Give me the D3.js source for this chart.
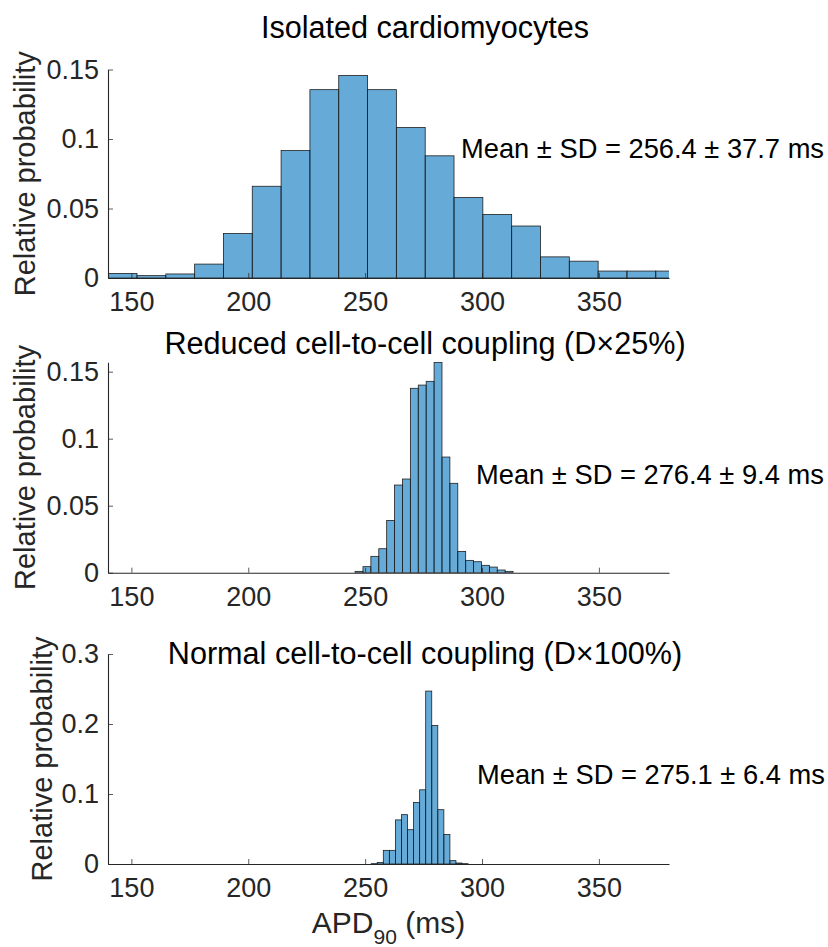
<!DOCTYPE html>
<html><head><meta charset="utf-8">
<script src="https://cdn.jsdelivr.net/npm/d3@7"></script>
<style>
body{margin:0;background:#fff}
svg text{font-family:"Liberation Sans",Arial,Helvetica,sans-serif}
</style>
</head><body>
<svg id="c" width="828" height="947"></svg>
<script>
// ---------- data ----------
const xDomain = [140, 380];
const xTicks = [150, 200, 250, 300, 350];
const xTickLabels = ["150", "200", "250", "300", "350"];

const titles = [
  "Isolated cardiomyocytes",
  "Reduced cell-to-cell coupling (D\u00d725%)",
  "Normal cell-to-cell coupling (D\u00d7100%)"
];
const meanLabels = [
  "Mean \u00b1 SD = 256.4 \u00b1 37.7 ms",
  "Mean \u00b1 SD = 276.4 \u00b1 9.4 ms",
  "Mean \u00b1 SD = 275.1 \u00b1 6.4 ms"
];

// bin start (ms), bin width (ms), relative probability per bin
const isoBinStart = 140.07, isoBinWidth = 12.33;
const isoValues = [0.0033, 0.0017, 0.0029, 0.0100, 0.0320, 0.0660, 0.0917, 0.1355, 0.1457, 0.1355,
                   0.1083, 0.0879, 0.0579, 0.0457, 0.0374, 0.0152, 0.0121, 0.0050, 0.0050, 0.0050];

const redBinStart = 245.7, redBinWidth = 3.38;
const redValues = [0.001, 0.0045, 0.0122, 0.0179, 0.039, 0.0654, 0.0699, 0.1376, 0.140, 0.1428,
                   0.1568, 0.0863, 0.0667, 0.0159, 0.0092, 0.0082, 0.0055, 0.0042, 0.002, 0.001];

const norBinStart = 252.6, norBinWidth = 2.59;
const norValues = [0.0005, 0.002, 0.0195, 0.0195, 0.063, 0.0705, 0.049, 0.088, 0.106, 0.247,
                   0.198, 0.0776, 0.042, 0.0048, 0.0014, 0.0005];

const yMaxes = [0.15, 0.157, 0.3];
const yTicks = [[0, 0.05, 0.1, 0.15], [0, 0.05, 0.1, 0.15], [0, 0.1, 0.2, 0.3]];
const yTickLabels = [["0", "0.05", "0.1", "0.15"], ["0", "0.05", "0.1", "0.15"], ["0", "0.1", "0.2", "0.3"]];

// ---------- layout ----------
const svg = d3.select("#c");
const left = 108, right = 669;
const panelTop = [69.5, 362.3, 654];
const panelBottom = [278, 572.7, 864];
const titleY = [37.5, 354, 663.5];
const titleX = 425;
const meanX = [461, 476, 477];
const meanY = [158.3, 483.5, 784.3];
const yLabelX = [35, 35, 51.5];

const series = [
  {start: isoBinStart, width: isoBinWidth, values: isoValues},
  {start: redBinStart, width: redBinWidth, values: redValues},
  {start: norBinStart, width: norBinWidth, values: norValues}
];

const axisColor = "#262626";
const barFill = "rgba(0,114,189,0.6)";

series.forEach((s, p) => {
  const x = d3.scaleLinear().domain(xDomain).range([left, right]);
  const y = d3.scaleLinear().domain([0, yMaxes[p]]).range([panelBottom[p], panelTop[p]]);
  const g = svg.append("g");

  const clipId = "clip" + p;
  svg.append("clipPath").attr("id", clipId).append("rect")
    .attr("x", left).attr("y", panelTop[p] - 1)
    .attr("width", right - left).attr("height", panelBottom[p] - panelTop[p] + 1);

  const bins = s.values.map((v, i) => ({x0: s.start + i * s.width, x1: s.start + (i + 1) * s.width, v}));
  g.append("g").attr("clip-path", `url(#${clipId})`)
    .selectAll("rect").data(bins).join("rect")
    .attr("x", d => x(d.x0))
    .attr("width", d => x(d.x1) - x(d.x0))
    .attr("y", d => y(d.v))
    .attr("height", d => y(0) - y(d.v))
    .attr("fill", barFill)
    .attr("stroke", "#1f1f1f")
    .attr("stroke-width", 0.8);

  // left axis
  const ya = d3.axisLeft(y).tickValues(yTicks[p]).tickFormat((d, i) => yTickLabels[p][i])
    .tickSizeInner(-5).tickSizeOuter(0).tickPadding(9);
  const yg = g.append("g").attr("transform", `translate(${left},0)`).call(ya);
  // bottom axis
  const xa = d3.axisBottom(x).tickValues(xTicks).tickFormat((d, i) => xTickLabels[i])
    .tickSizeInner(-5).tickSizeOuter(0).tickPadding(14);
  const xg = g.append("g").attr("transform", `translate(0,${panelBottom[p]})`).call(xa);

  [yg, xg].forEach(a => {
    a.select(".domain").attr("stroke", axisColor).attr("stroke-width", 1.1);
    a.selectAll(".tick line").attr("stroke", axisColor).attr("stroke-width", 1).attr("stroke-opacity", 0.75);
    a.selectAll(".tick text").attr("fill", axisColor).style("font-size", "27px");
  });

  // y label
  g.append("text")
    .attr("transform", `translate(${yLabelX[p]},${(panelTop[p] + panelBottom[p]) / 2}) rotate(-90)`)
    .attr("text-anchor", "middle")
    .attr("fill", axisColor)
    .style("font-size", "29px")
    .text("Relative probability");

  // title
  g.append("text")
    .attr("x", titleX).attr("y", titleY[p])
    .attr("text-anchor", "middle")
    .attr("fill", "#000")
    .style("font-size", "30.6px")
    .text(titles[p]);

  // mean text
  g.append("text")
    .attr("x", meanX[p]).attr("y", meanY[p])
    .attr("fill", "#000")
    .style("font-size", "27.3px")
    .text(meanLabels[p]);
});

// x label
const xl = svg.append("text")
  .attr("x", (left + right) / 2).attr("y", 933)
  .attr("text-anchor", "middle")
  .attr("fill", axisColor)
  .style("font-size", "30px");
xl.append("tspan").text("APD");
xl.append("tspan").attr("dy", 11).style("font-size", "21px").text("90");
xl.append("tspan").attr("dy", -11).text(" (ms)");
</script>
</body></html>
